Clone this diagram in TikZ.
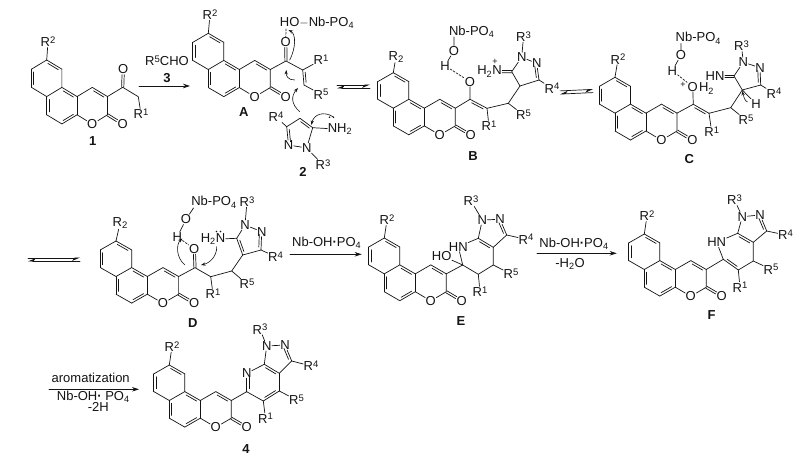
\documentclass[tikz,border=0pt]{standalone}
\usepackage{fontspec}
\setmainfont{Liberation Sans}
\usetikzlibrary{calc,arrows.meta}
\definecolor{ink}{HTML}{141414}
\newcommand\chemfont{\fontsize{13}{14}\selectfont}
\newcommand\Rr[1]{R\raisebox{.48ex}{\fontsize{9.5}{9.5}\selectfont #1}}
\newcommand\Rs[1]{R\raisebox{-.28ex}{\fontsize{9.5}{9.5}\selectfont #1}}
\newcommand\db[3]{\draw (#1)--(#2); \draw ($(#1)!0.16!(#2)!#3!90:(#2)$) -- ($(#2)!0.16!(#1)!#3!-90:(#1)$);}
\newcommand\dbc[2]{\path (#1)--(#2) coordinate[pos=0] (tmpa) coordinate[pos=1] (tmpb);
 \draw ($(tmpa)!1.1pt!90:(tmpb)$) -- ($(tmpb)!1.1pt!-90:(tmpa)$);
 \draw ($(tmpa)!-1.1pt!90:(tmpb)$) -- ($(tmpb)!-1.1pt!-90:(tmpa)$);}
\newcommand\core[8]{%
 \begin{scope}[shift={(#2,#3)},xscale=#4,yscale=#5]
  \coordinate (#1a0) at (0,0); \coordinate (#1a1) at (-15.5,8.9); \coordinate (#1a2) at (-15.5,26.6);
  \coordinate (#1a3) at (0,35.5); \coordinate (#1a4) at (15.5,26.6); \coordinate (#1a5) at (15.5,8.9);
  \coordinate (#1b0) at (0,53.2); \coordinate (#1b1) at (15.5,62.1); \coordinate (#1b2) at (31,53.2);
  \coordinate (#1c1) at (31,35.5); \coordinate (#1c4) at (46.5,26.6); \coordinate (#1c3) at (62,35.5);
  \coordinate (#1c2) at (62,53.2);
  \node[atom] (#1O) at (46.5,62.3) {O};
  \node[atom] (#1Ok) at (77.5,62.3) {O};
 \end{scope}
 \node[atom] (#1R) at (#7,#8) {#6};
 \draw (#1a0)--(#1R);
 \db{#1a0}{#1a5}{-2.3pt} \draw (#1a5)--(#1a4)--(#1a3)--(#1a2); \db{#1a2}{#1a1}{-2.3pt} \draw (#1a1)--(#1a0);
 \db{#1b0}{#1a3}{-2.3pt} \draw (#1b0)--(#1b1); \db{#1b2}{#1b1}{-2.3pt} \draw (#1b2)--(#1c1); \db{#1a4}{#1c1}{-2.3pt}
 \draw (#1c1)--(#1c4); \db{#1c4}{#1c3}{-2.3pt} \draw (#1c3)--(#1c2)--(#1O)--(#1b2);
 \dbc{#1c2}{#1Ok}
}
\newcommand\rxn[4]{\coordinate (#1s) at (#2,#4); \coordinate (#1e) at (#3,#4); \draw[rarrow] (#1s)--(#1e);}
\newcommand\eqm[5]{% name x1 y1 x2 y2
 \coordinate (#1p) at (#2,#3); \coordinate (#1q) at (#4,#5);
 \draw[-{Stealth[length=7pt,width=6pt,harpoon,swap]}] ($(#1p)+(0,-1.6)$)--($(#1q)+(0,-1.6)$);
 \draw[-{Stealth[length=7pt,width=6pt,harpoon,swap]}] ($(#1q)+(0,1.6)$)--($(#1p)+(0,1.6)$);
}
\tikzset{
 atom/.style={inner sep=.2pt,font=\chemfont,text=ink},
 tag/.style={inner sep=0pt,font=\chemfont\bfseries,text=ink},
 rarrow/.style={-{Stealth[length=7pt,width=4.5pt]}},
 curly/.style={-{Stealth[length=4.5pt,width=3.2pt]},line width=.6pt},
 hbond/.style={dash pattern=on 2pt off 1.5pt},
 lone/.style={fill=ink,draw=none},
}
\begin{document}
\begin{tikzpicture}[x=1pt,y=-1pt,line width=.7pt,color=ink,line cap=round,line join=round]
\useasboundingbox (0,0) rectangle (807,462);
\fill[white] (0,0) rectangle (807,462);

% ---- 1
\core{p}{46.7}{60}{.98}{1.03}{\Rr{2}}{48}{42}
\coordinate (pk) at (122.7,87.3); \coordinate (pm) at (138.3,96.7);
\node[atom] (pko) at (123.3,69.5) {O};
\node[atom] (prr) at (141,114) {\Rr{1}};
\node[tag] (pt) at (92.7,140.7) {1};
\draw (pc3)--(pk)--(pm)--(prr); \dbc{pk}{pko}
\rxn{ra}{139}{190}{86}
\node[atom] (ra1) at (167,61) {\Rr{5}CHO};
\node[tag] (ra2) at (167,78) {3};

% ---- A
\core{a}{208.3}{33.3}{1}{1.02}{\Rr{2}}{210}{15}
\coordinate (ak) at (286,61); \coordinate (aal) at (302.7,70); \coordinate (abe) at (304,85);
\node[atom] (ako) at (285.7,42.3) {O};
\node[atom] (ar1) at (321,60) {\Rr{1}};
\node[atom] (ar5) at (321,94.3) {\Rr{5}};
\node[atom] (ahn) at (317,23) {HO$-$Nb-PO\textsubscript{4}};
\node[tag] (at) at (243.7,112) {A};
\coordinate (ah) at (286,29);
\draw (ac3)--(ak)--(aal)--(ar1); \dbc{ak}{ako}
\db{aal}{abe}{2.3pt} \draw (abe)--(ar5);
\draw[hbond] (ah)--(ako);
\draw[curly] (289.7,60) .. controls (296,48) and (296,34) .. (288.5,30);
\draw[curly] (294.7,80) .. controls (288,80) and (286,76) .. (286.3,70);
\draw[curly] (299.7,111.7) .. controls (291,104) and (291,96) .. (298,88);
% ---- 2
\coordinate (bc5) at (312.7,127.7); \coordinate (bc4) at (300,118.3); \coordinate (bc3) at (286.7,126.7);
\node[atom] (bn2) at (288.5,145) {N};
\node[atom] (bn1) at (306.7,148) {N};
\node[atom] (bnh) at (340,129.3) {NH\textsubscript{2}};
\node[atom] (br3) at (323,165) {\Rr{3}};
\node[atom] (br4) at (276,117) {\Rr{4}};
\node[tag] (bt) at (303,172) {2};
\db{bc4}{bc5}{-2.3pt} \draw (bc4)--(bc3); \db{bc3}{bn2}{2.3pt} \draw (bn2)--(bn1)--(bc5)--(bnh);
\draw (bn1)--(br3); \draw (bc3)--(br4);
\draw[curly] (333,116.7) .. controls (324,111) and (314,114) .. (311.3,125);
\fill[lone] (329.5,117.3) circle (.8) (333.5,117.3) circle (.8);

\eqm{e1}{337}{86.5}{370}{86.5}

% ---- B
\core{c}{393.3}{72.7}{1}{1}{\Rs{2}}{396}{56.7}
\coordinate (cen) at (470,99.3); \coordinate (cal) at (487,108.3); \coordinate (cch) at (508.3,103.3);
\coordinate (cq4) at (520,86); \coordinate (cq5) at (511.7,71.7); \coordinate (cq3) at (539,80);
\node[atom] (ceo) at (470,81.7) {O};
\node[atom] (cr1) at (489,126) {\Rr{1}};
\node[atom] (cr5) at (523.5,115) {\Rr{5}};
\node[atom] (cnh) at (489.5,71.5) {H\textsubscript{2}N};
\node[atom,font=\fontsize{9}{9}\selectfont] (cpl) at (495,61.5) {+};
\node[atom] (cn1) at (521.7,57.3) {N};
\node[atom] (cn2) at (536.7,63.3) {N};
\node[atom] (cr3) at (523.5,36.7) {\Rr{3}};
\node[atom] (cr4) at (552,88.3) {\Rr{4}};
\node[atom] (cnb) at (471.7,31.7) {Nb-PO\textsubscript{4}};
\node[atom] (coh) at (454,50.7) {O};
\node[atom] (chh) at (445,65.7) {H};
\node[tag] (ct) at (473,155.7) {B};
\coordinate (cnbb) at (454,37);
\draw (cc3)--(cen)--(ceo);
\db{cen}{cal}{-2.3pt}
\draw (cal)--(cr1); \draw (cal)--(cch)--(cr5); \draw (cch)--(cq4)--(cq5)--(cn1)--(cn2);
\db{cn2}{cq3}{-2.3pt} \draw (cq3)--(cq4); \draw (cq3)--(cr4); \draw (cn1)--(cr3);
\dbc{cnh}{cq5}
\draw (chh)--(coh)--(cnbb);
\draw[hbond] (chh)--(ceo);

\eqm{e2}{560}{92.5}{593}{91}

% ---- C
\core{d}{615}{77.3}{1}{1.01}{\Rr{2}}{618}{59.3}
\coordinate (den) at (693.3,104.3); \coordinate (dal) at (709,113.3); \coordinate (dch) at (730.7,107.7);
\coordinate (dq4) at (742.3,90); \coordinate (dq5) at (734,76); \coordinate (dq3) at (760.7,85);
\node[atom] (deo) at (692.7,86.7) {O};
\node[atom] (deh) at (706.5,88.5) {H\textsubscript{2}};
\node[atom,font=\fontsize{9}{9}\selectfont] (dpl) at (683,85) {+};
\node[atom] (dr1) at (711.7,131.7) {\Rr{1}};
\node[atom] (dr5) at (746,120) {\Rr{5}};
\node[atom] (dnh) at (715,76) {HN};
\node[atom] (dn1) at (743.3,62.3) {N};
\node[atom] (dn2) at (760,67.7) {N};
\node[atom] (dr3) at (741.5,46) {\Rr{3}};
\node[atom] (dr4) at (774,93.3) {\Rr{4}};
\node[atom] (dhh2) at (756,104) {H};
\node[atom] (dnb) at (698.3,38.3) {Nb-PO\textsubscript{4}};
\node[atom] (doh) at (681,55) {O};
\node[atom] (dhh) at (672.3,70.7) {H};
\node[tag] (dt) at (689.3,159) {C};
\coordinate (dnbb) at (681,43.5);
\draw (dc3)--(den)--(deo);
\db{den}{dal}{-2.3pt}
\draw (dal)--(dr1); \draw (dal)--(dch)--(dr5); \draw (dch)--(dq4)--(dq5)--(dn1)--(dn2);
\db{dn2}{dq3}{-2.3pt} \draw (dq3)--(dq4); \draw (dq3)--(dr4); \draw (dn1)--(dr3);
\dbc{dnh}{dq5}
\draw (dq4)--(dhh2);
\draw (dhh)--(doh)--(dnbb);
\draw[hbond] (dhh)--(deo);
\draw[curly] (747.5,102) .. controls (745,101) and (743.5,97) .. (742.3,91);

\eqm{e3}{28}{259.5}{80}{259.5}

% ---- D
\core{e}{116}{241}{1.01}{1}{\Rs{2}}{120}{223.3}
\coordinate (ek) at (195,267.7); \coordinate (ech) at (210.7,276.7); \coordinate (ech2) at (231.7,271);
\coordinate (eq4) at (242.7,255); \coordinate (eq5) at (236.7,238.3); \coordinate (eq3) at (261,250);
\node[atom] (eko) at (194.3,249) {O};
\node[atom] (er1) at (213,294) {\Rr{1}};
\node[atom] (er5) at (247,284) {\Rr{5}};
\node[atom] (enh) at (213,239.3) {H\textsubscript{2}N};
\node[atom] (en1) at (245,225) {N};
\node[atom] (en2) at (261.7,231.7) {N};
\node[atom] (er3) at (247,201.7) {\Rr{3}};
\node[atom] (er4) at (275.5,256.7) {\Rr{4}};
\node[atom] (enb) at (214,202.3) {Nb-PO\textsubscript{4}};
\node[atom] (eoh) at (186,219.3) {O};
\node[atom] (ehh) at (177.3,236.7) {H};
\node[tag] (et) at (192.7,323) {D};
\coordinate (enbb) at (193.5,208);
\draw (ec3)--(ek)--(ech)--(ech2)--(eq4); \dbc{ek}{eko}
\draw (ech)--(er1); \draw (ech2)--(er5);
\db{eq5}{eq4}{2.3pt} \draw (eq4)--(eq3); \db{en2}{eq3}{-2.3pt} \draw (eq3)--(er4);
\draw (eq5)--(en1)--(en2); \draw (en1)--(er3); \draw (enh)--(eq5);
\draw (ehh)--(eoh)--(enbb);
\draw[hbond] (ehh)--(eko);
\draw[curly] (185,265) .. controls (176,258) and (176,244) .. (182.5,238.5);
\draw[curly] (216.7,246.7) .. controls (217,256) and (210,263) .. (201,265);
\fill[lone] (216.5,231.5) circle (.8) (220.5,231.5) circle (.8);

\rxn{rb}{290}{361.7}{254.3}
\node[atom] (rb1) at (326.7,243) {Nb-OH\textbf{·}PO\textsubscript{4}};

% ---- E
\core{f}{384.3}{238}{1}{1.01}{\Rr{2}}{387}{220}
\coordinate (fzq) at (462.7,265); \coordinate (fz1) at (478.3,274.3); \coordinate (fz5) at (493.3,265);
\coordinate (fz3a) at (493.3,247.3); \coordinate (fz7a) at (478.3,238.3); \coordinate (fz3) at (506.7,235);
\node[atom] (fho) at (441.7,255.7) {HO};
\node[atom] (fhn) at (458.3,246.7) {HN};
\node[atom] (fr1) at (480,291.7) {\Rr{1}};
\node[atom] (fr5) at (511,274) {\Rr{5}};
\node[atom] (fn2) at (500,219.3) {N};
\node[atom] (fn1) at (482.3,220) {N};
\node[atom] (fr3) at (471,201) {\Rr{3}};
\node[atom] (fr4) at (526,239.3) {\Rr{4}};
\node[tag] (ft) at (461,321) {E};
\draw (fc3)--(fzq);
\draw (fz7a)--(fhn)--(fzq)--(fz1)--(fz5)--(fz3a); \draw (fzq)--(fho);
\draw (fz1)--(fr1); \draw (fz5)--(fr5);
\db{fz7a}{fz3a}{-2.3pt}
\draw (fz3a)--(fz3); \db{fn2}{fz3}{-2.3pt} \draw (fz3)--(fr4);
\draw (fn2)--(fn1)--(fz7a); \draw (fn1)--(fr3);

\rxn{rc}{537}{616.7}{253.3}
\node[atom] (rc1) at (574,244) {Nb-OH\textbf{·}PO\textsubscript{4}};
\node[atom] (rc2) at (570,264) {-H\textsubscript{2}O};

% ---- F
\core{g}{644.3}{234}{1}{1}{\Rr{2}}{647}{216}
\coordinate (gz6) at (723.3,259.3); \coordinate (gz1) at (738.3,270); \coordinate (gz5) at (753.3,261);
\coordinate (gz3a) at (753.3,242.3); \coordinate (gz7a) at (737.7,233.3); \coordinate (gz3) at (766.7,231);
\node[atom] (ghn) at (716.7,242.3) {HN};
\node[atom] (gr1) at (740,287.3) {\Rr{1}};
\node[atom] (gr5) at (771,269.3) {\Rr{5}};
\node[atom] (gn2) at (760,215) {N};
\node[atom] (gn1) at (742.3,216.7) {N};
\node[atom] (gr3) at (734.5,200) {\Rr{3}};
\node[atom] (gr4) at (785.5,235) {\Rr{4}};
\node[tag] (gt) at (711.7,315) {F};
\draw (gc3)--(gz6);
\draw (gz7a)--(ghn)--(gz6); \db{gz6}{gz1}{2.3pt} \draw (gz1)--(gz5)--(gz3a);
\draw (gz1)--(gr1); \draw (gz5)--(gr5);
\db{gz7a}{gz3a}{-2.3pt} \draw (gz3a)--(gz3); \db{gn2}{gz3}{-2.3pt} \draw (gz3)--(gr4);
\draw (gn2)--(gn1)--(gz7a); \draw (gn1)--(gr3);

\rxn{rd}{49}{139}{389.3}
\node[atom] (rd1) at (90.7,378.3) {aromatization};
\node[atom] (rd2) at (93.3,396.7) {Nb-OH\textbf{·} PO\textsubscript{4}};
\node[atom] (rd3) at (98.3,407.3) {-2H};

% ---- 4
\core{h}{169.3}{365}{1}{1}{\Rr{2}}{172}{346.7}
\coordinate (hz6) at (246.7,391.7); \coordinate (hz5) at (263.3,401); \coordinate (hz4) at (279.3,391);
\coordinate (hz3a) at (279.3,373.3); \coordinate (hz7a) at (264.3,364.3); \coordinate (hz3) at (291.7,361);
\node[atom] (hn7) at (246.7,373.3) {N};
\node[atom] (hr1) at (265.5,418.3) {\Rr{1}};
\node[atom] (hr5) at (296.5,400) {\Rr{5}};
\node[atom] (hn2) at (285,345) {N};
\node[atom] (hn1) at (266.7,346) {N};
\node[atom] (hr3) at (260,329.3) {\Rr{3}};
\node[atom] (hr4) at (311,366) {\Rr{4}};
\node[tag] (ht) at (246,449) {4};
\draw (hc3)--(hz6);
\draw (hn7)--(hz7a); \db{hn7}{hz6}{2.3pt} \draw (hz6)--(hz5);
\db{hz5}{hz4}{2.3pt} \draw (hz4)--(hz3a); \db{hz7a}{hz3a}{-2.3pt}
\draw (hz5)--(hr1); \draw (hz4)--(hr5);
\draw (hz3a)--(hz3); \db{hn2}{hz3}{-2.3pt} \draw (hz3)--(hr4);
\draw (hn2)--(hn1)--(hz7a); \draw (hn1)--(hr3);
\end{tikzpicture}
\end{document}
